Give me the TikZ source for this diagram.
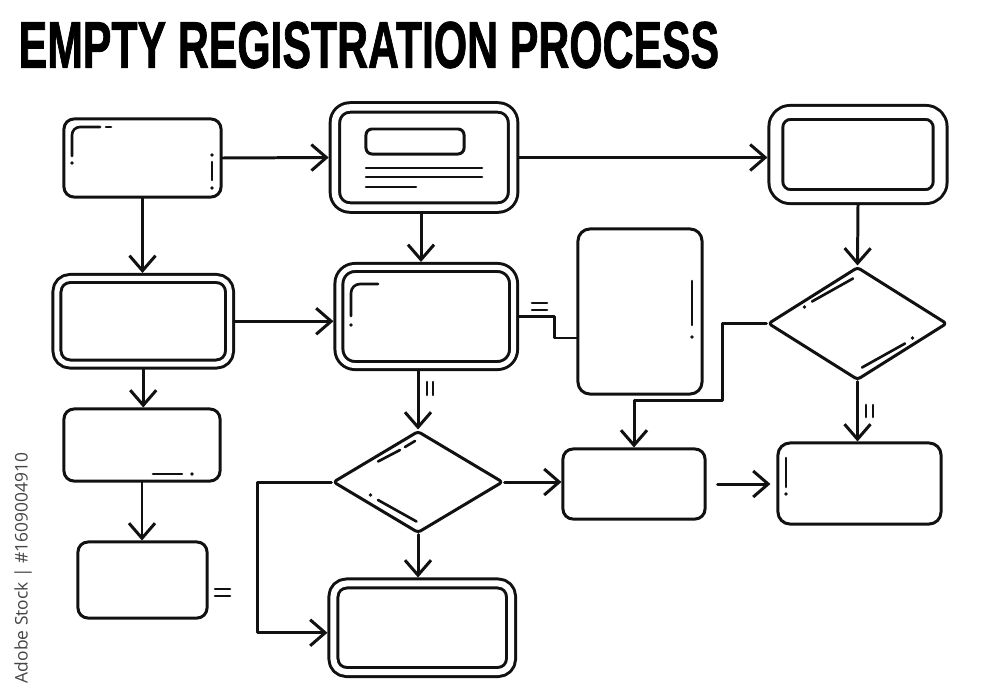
\documentclass[tikz,border=0pt]{standalone}
\usepackage{fontspec}
\usetikzlibrary{arrows.meta,shapes.geometric,calc}
\newfontfamily\titlefont[FakeBold=1.5]{Liberation Sans Bold}
\newfontfamily\sidefont{Open Sans}
\definecolor{ink}{HTML}{111111}
\definecolor{sidegray}{HTML}{444444}
\tikzset{
  ln/.style={draw=ink, line width=0.85pt, line cap=round, line join=round},
  sbox/.style={ln, rounded corners=0.1cm, inner sep=0pt},
  dbox/.style n args={2}{ln, double, double distance=#1, outer sep=#2, rounded corners=0.13cm, inner sep=0pt},
  dia/.style={ln, shape=diamond, inner sep=0pt, rounded corners=0.03cm},
  dec/.style={draw=ink, line width=0.75pt, line cap=round},
  dotm/.style={fill=ink},
  arr/.style={ln, -{Straight Barb[length=1.5mm,width=2.6mm]}},
  conn/.style={ln},
}
\begin{document}
\begin{tikzpicture}[x=0.01cm,y=-0.01cm]
\fill[white] (0,0) rectangle (1000,700);
\useasboundingbox (0,0) rectangle (1000,700);

% title
\node[anchor=west, inner sep=0pt] (title) at (18,45)
  {\resizebox{7cm}{0.46cm}{\titlefont EMPTY REGISTRATION PROCESS}};

% side credit
\node[rotate=90, text=sidegray, inner sep=0pt] (credit) at (23,568)
  {\resizebox{2.3cm}{!}{\sidefont Adobe Stock | \#1609004910}};

% boxes
\node[sbox, minimum width=1.57cm, minimum height=0.78cm] (A) at (142.5,158) {};
\node[dbox={0.065cm}{0.0625cm}, minimum width=1.78cm, minimum height=1.0cm, rounded corners=0.15cm] (B) at (424,157.5) {};
\node[dbox={0.11cm}{0.085cm}, minimum width=1.64cm, minimum height=0.84cm, rounded corners=0.14cm] (C) at (858,154.5) {};
\node[dbox={0.05cm}{0.055cm}, minimum width=1.745cm, minimum height=0.98cm, rounded corners=0.16cm] (F) at (426.25,316.5) {};
\node[dbox={0.05cm}{0.055cm}, minimum width=1.725cm, minimum height=0.855cm] (N2) at (143.25,321.25) {};
\node[dbox={0.06cm}{0.06cm}, minimum width=1.775cm, minimum height=0.885cm] (L) at (422.25,627.75) {};
\node[sbox, minimum width=1.24cm, minimum height=1.65cm, rounded corners=0.12cm] (E) at (640,311.5) {};
\node[sbox, minimum width=1.42cm, minimum height=0.70cm] (H) at (634,484) {};
\node[sbox, minimum width=1.63cm, minimum height=0.81cm, rounded corners=0.12cm] (I) at (859.5,483.5) {};
\node[sbox, minimum width=1.56cm, minimum height=0.72cm] (J) at (142,445) {};
\node[sbox, minimum width=1.29cm, minimum height=0.76cm] (K) at (142.5,580) {};
\node[dia, minimum width=1.79cm, minimum height=1.13cm] (D) at (857.5,323.5) {};
\node[dia, minimum width=1.70cm, minimum height=1.02cm] (G) at (418,482) {};

% contents of B
\node[sbox, rounded corners=0.06cm, minimum width=0.98cm, minimum height=0.25cm] (Bbar) at (415,141.5) {};
\draw[dec] (366,168) -- (482,168);
\draw[dec] (366,177) -- (482,177);
\draw[dec] (366,187) -- (416,187);

% connectors
\draw[arr] (A.east) -- (B.west);
\draw[arr] (B.east) -- (B.east -| C.west);
\draw[arr] (C.south) -- (D.north);
\draw[arr] (A.south) -- (A.south |- N2.north);
\draw[arr] (N2.east) -- (N2.east -| F.west);
\draw[arr] (B.south -| 421,0) -- (421,0 |- F.north);
\draw[arr] (N2.south) -- (N2.south |- J.north);
\draw[arr] (J.south) -- (J.south |- K.north);
\draw[arr] (F.south -| G.north) -- (G.north);
\draw[conn] (F.east) -- ++(35,0) |- ($(E.west)+(0,26.5)$);
\draw[arr] (D.west) -- ++(-44,0) -- ++(0,77) -| (H.north);
\draw[arr] (G.east) -- (G.east -| H.west);
\draw[arr, shorten <=0.11cm, shorten >=0.06cm] (H.east) -- (H.east -| I.west);
\draw[arr] (D.south) -- (D.south |- I.north);
\draw[arr] (G.south) -- (G.south |- L.north);
\draw[arr] (G.west) -- ++(-74,0) |- ($(L.west)+(0,5)$);

% small marks
\draw[dec] (532,303) -- (547,303);
\draw[dec] (532,310) -- (547,310);
\draw[dec] (215,589) -- (230,589);
\draw[dec] (215,596) -- (230,596);
\draw[dec] (427,382) -- (427,395);
\draw[dec] (433,382) -- (433,395);
\draw[dec] (866,405) -- (866,417);
\draw[dec] (873,405) -- (873,417);

% highlights
\draw[dec] (72,156) -- (72,135) arc[start angle=180, end angle=270, radius=8] -- (100,127);
\draw[dec] (106,127) -- (111,127);
\fill[dotm] (72,163) circle (1.8);
\draw[dec] (212,162) -- (212,180);
\fill[dotm] (212,155) circle (1.8);
\fill[dotm] (212,188) circle (1.8);
\draw[dec] (351,316) -- (351,293) arc[start angle=180, end angle=270, radius=9] -- (378,284);
\fill[dotm] (351,325) circle (1.8);
\draw[dec] (153,474) -- (182,474);
\fill[dotm] (192,474) circle (1.8);
\draw[dec] (692,281) -- (692,325);
\fill[dotm] (692,337) circle (1.8);
\draw[dec] (786,458) -- (786,487);
\fill[dotm] (786,494) circle (1.8);
\draw[dec] (812,301.5) -- (853,278.5);
\fill[dotm] (804.5,307) circle (1.8);
\draw[dec] (862,367.5) -- (905,343.5);
\fill[dotm] (912.5,338) circle (1.8);
\draw[dec] (378,461.5) -- (400,450);
\draw[dec] (405,447) -- (415,441);
\fill[dotm] (370.5,495) circle (1.8);
\draw[dec] (378,500) -- (416.5,521.5);
\end{tikzpicture}
\end{document}
